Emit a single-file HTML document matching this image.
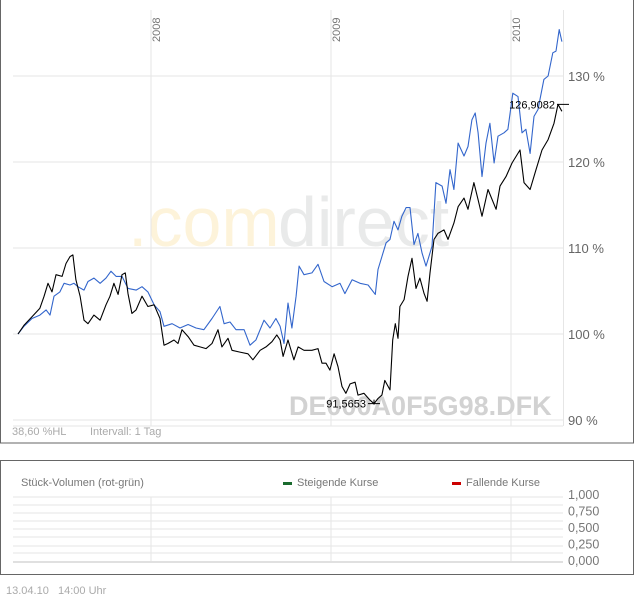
<!DOCTYPE html>
<html><head><meta charset="utf-8"><style>
html,body{margin:0;padding:0;background:#fff;}
svg{display:block;font-family:"Liberation Sans",sans-serif;}
</style></head><body>
<svg id="c" width="634" height="597" viewBox="0 0 634 597">
<rect x="0.5" y="-1" width="633" height="444" fill="#fff" stroke="#666"/>
<g id="wm">
<text x="128" y="246" font-size="70" fill="#fdf3da">.com</text>
<text x="278" y="246" font-size="70" fill="#e9eaea">direct</text>
</g>
<g id="grid"></g>
<text x="289" y="415" font-size="27" font-weight="bold" fill="#d2d2d2">DE000A0F5G98.DFK</text>
<g id="series"></g>
<g id="yax"></g>
<text x="12" y="435" font-size="11" fill="#aaa">38,60 %HL</text>
<text x="90" y="435" font-size="11" fill="#aaa">Intervall: 1 Tag</text>

<rect x="0.5" y="460.5" width="633" height="114" fill="#fff" stroke="#666"/>
<text x="21" y="486" font-size="11" fill="#777">Stück-Volumen (rot-grün)</text>
<rect x="283" y="482" width="9" height="3" fill="#1a6b2e"/>
<text x="297" y="486" font-size="11" fill="#777">Steigende Kurse</text>
<rect x="452" y="482" width="9" height="3" fill="#cc0000"/>
<text x="466" y="486" font-size="11" fill="#777">Fallende Kurse</text>
<g id="vgrid"></g>
<text x="6" y="594" font-size="11" fill="#aaa">13.04.10&#160;&#160;&#160;14:00 Uhr</text>
</svg>
<script>
const yTicks=[90,100,110,120,130];
const yearTicks=[2008,2009,2010];
const volTicks=["1,000","0,750","0,500","0,250","0,000"];
const blackDates=[2007.261,2007.294,2007.339,2007.383,2007.406,2007.428,2007.450,2007.472,2007.506,2007.528,2007.550,2007.566,2007.583,2007.606,2007.628,2007.650,2007.683,2007.717,2007.750,2007.772,2007.794,2007.817,2007.839,2007.857,2007.872,2007.894,2007.917,2007.950,2007.983,2008.017,2008.050,2008.072,2008.094,2008.128,2008.150,2008.172,2008.206,2008.239,2008.272,2008.306,2008.339,2008.372,2008.394,2008.428,2008.450,2008.494,2008.539,2008.566,2008.606,2008.639,2008.672,2008.699,2008.717,2008.734,2008.761,2008.794,2008.817,2008.850,2008.894,2008.928,2008.950,2008.972,2008.994,2009.017,2009.039,2009.061,2009.083,2009.106,2009.134,2009.150,2009.183,2009.217,2009.239,2009.261,2009.283,2009.299,2009.328,2009.343,2009.357,2009.372,2009.383,2009.406,2009.428,2009.450,2009.472,2009.494,2009.517,2009.534,2009.550,2009.572,2009.594,2009.628,2009.650,2009.683,2009.706,2009.739,2009.761,2009.794,2009.817,2009.839,2009.872,2009.917,2009.939,2009.972,2010.006,2010.050,2010.072,2010.106,2010.139,2010.172,2010.206,2010.239,2010.261,2010.283];
const blackValues=[100,101.0,102.0,103.0,104.4,105.9,104.9,106.9,106.7,108.2,109.0,109.2,106.3,104.4,101.6,101.2,102.2,101.6,103.4,104.4,105.9,104.6,106.9,107.1,104.7,102.4,102.8,104.4,103.2,103.4,101.8,98.7,98.9,99.3,98.9,100.5,99.7,98.7,98.5,98.3,98.9,100.5,98.5,99.5,98.1,97.9,97.7,97.0,98.1,98.5,99.1,99.9,99.3,97.4,99.3,97.0,98.5,98.1,98.1,98.3,96.6,96.6,95.8,97.7,96.2,93.9,93.1,94.2,94.4,92.9,93.1,92.3,91.9,92.5,92.9,94.6,93.5,99.3,101.2,99.5,103.2,104.0,106.7,108.8,105.3,106.5,104.7,103.8,107.1,111.0,111.7,112.1,111.0,112.9,114.8,115.8,114.5,117.6,115.6,113.7,116.8,114.5,117.2,118.3,119.9,121.4,117.6,116.8,119.1,121.4,122.6,124.5,126.7,125.9];
const blueDates=[2007.261,2007.294,2007.339,2007.383,2007.417,2007.439,2007.461,2007.494,2007.517,2007.550,2007.572,2007.594,2007.628,2007.650,2007.683,2007.717,2007.750,2007.778,2007.806,2007.839,2007.872,2007.917,2007.950,2007.983,2008.017,2008.050,2008.072,2008.117,2008.161,2008.206,2008.250,2008.294,2008.339,2008.383,2008.406,2008.439,2008.472,2008.517,2008.550,2008.583,2008.628,2008.661,2008.694,2008.717,2008.739,2008.761,2008.783,2008.806,2008.823,2008.850,2008.894,2008.928,2008.961,2009.006,2009.050,2009.077,2009.117,2009.161,2009.206,2009.246,2009.261,2009.283,2009.306,2009.328,2009.350,2009.372,2009.394,2009.417,2009.439,2009.461,2009.483,2009.506,2009.528,2009.561,2009.583,2009.617,2009.639,2009.661,2009.683,2009.706,2009.739,2009.761,2009.783,2009.801,2009.817,2009.839,2009.861,2009.883,2009.906,2009.928,2009.961,2009.983,2010.010,2010.039,2010.061,2010.083,2010.106,2010.128,2010.150,2010.183,2010.206,2010.232,2010.250,2010.268,2010.283];
const blueValues=[100,100.9,101.8,102.2,102.8,102.2,104.4,104.9,105.9,105.7,105.9,105.5,105.1,106.1,106.5,105.9,106.5,107.3,106.7,106.7,105.3,105.1,105.5,104.9,103.4,102.6,100.9,101.2,100.7,101.1,100.7,100.5,101.8,103.2,101.2,101.4,100.5,100.5,98.7,99.3,101.6,100.7,101.8,100.9,98.9,103.6,100.7,104.4,107.9,106.9,107.1,108.1,106.1,105.5,105.9,104.7,106.3,105.9,105.7,104.6,107.5,109.0,110.6,111.0,113.1,112.1,113.7,114.7,114.7,110.4,111.7,109.4,107.9,110.2,117.6,117.2,115.2,119.1,116.8,122.2,120.7,121.8,124.9,125.7,123.4,118.3,122.2,124.5,119.9,123.0,123.4,123.8,128.0,127.6,123.4,123.8,121.0,125.3,126.1,129.6,130.0,132.7,132.9,135.4,134.0];
const NS='http://www.w3.org/2000/svg';
function X(t){return 151+(t-2008)*180;}
function Y(v){return 334-(v-100)*8.6;}
function mk(tag,attrs,parent){const e=document.createElementNS(NS,tag);for(const k in attrs)e.setAttribute(k,attrs[k]);parent.appendChild(e);return e;}
const grid=document.getElementById('grid'),yax=document.getElementById('yax'),ser=document.getElementById('series'),vg=document.getElementById('vgrid');
yTicks.forEach(v=>{
  const l=mk('line',{x1:13,x2:563,y1:Y(v),y2:Y(v),stroke:'#e6e6e6'},grid);
  
  
  const t=mk('text',{x:568,y:Y(v)+5,'font-size':13,fill:'#666'},yax);
  t.textContent=v+' %';
  
  
});
yearTicks.forEach(y=>{
  const l=mk('line',{x1:X(y),x2:X(y),y1:10,y2:426,stroke:'#e6e6e6'},grid);
  
  
  const t=mk('text',{x:0,y:0,'font-size':11,fill:'#777',transform:'translate('+(X(y)+9)+',42) rotate(-90)'},grid);
  t.textContent=y;
  
  
  const v=mk('line',{x1:X(y),x2:X(y),y1:497,y2:562,stroke:'#e6e6e6'},vg);
  
  
});
const rb=mk('line',{x1:563.5,x2:563.5,y1:10,y2:426,stroke:'#e6e6e6'},grid);


const bb=mk('line',{x1:13,x2:563,y1:426,y2:426,stroke:'#e6e6e6'},grid);


[497,505,513,521,529,537,546,553].forEach(y=>{
  const l=mk('line',{x1:13,x2:563,y1:y,y2:y,stroke:'#e6e6e6'},vg);
  
  
});
const vb=mk('line',{x1:13,x2:563,y1:562,y2:562,stroke:'#e0e0e0','stroke-width':2},vg);


volTicks.forEach((s,i)=>{
  const t=mk('text',{x:568,y:499+i*16.5,'font-size':12.5,fill:'#777'},vg);
  t.textContent=s;
  
  
});
function line(d,v,c,name){
  const p=mk('path',{d:d.map((t,i)=>(i?'L':'M')+X(t).toFixed(1)+' '+Y(v[i]).toFixed(1)).join(''),fill:'none',stroke:c,'stroke-width':1.1,'stroke-linejoin':'round'},ser);
  
  
}
line(blueDates,blueValues,'#3366cc','benchmark-line');
line(blackDates,blackValues,'#000','price-line');
// max / min annotations
const mx=Math.max(...blackValues), mi=Math.min(...blackValues);
const ix=blackValues.indexOf(mx), ii=blackValues.indexOf(mi);
const ml=mk('line',{x1:557,x2:569,y1:Y(mx),y2:Y(mx),stroke:'#000'},ser);


const mt=mk('text',{x:555,y:Y(mx)+4,'font-size':11,fill:'#000','text-anchor':'end'},ser);
mt.textContent='126,9082';


const nl=mk('path',{d:'M'+(X(blackDates[ii])-6)+' '+Y(mi)+'h12M'+X(blackDates[ii])+' '+(Y(mi)-4)+'v5',stroke:'#000',fill:'none'},ser);


const nt=mk('text',{x:X(blackDates[ii])-8,y:Y(mi)+4,'font-size':11,fill:'#000','text-anchor':'end'},ser);
nt.textContent='91,5653';


</script>
</body></html>
